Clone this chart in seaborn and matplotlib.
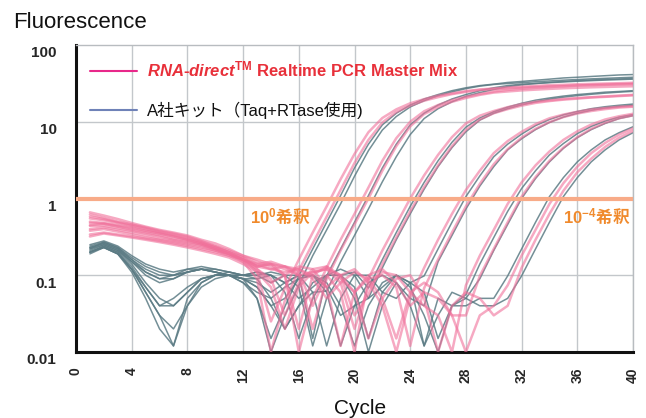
import numpy as np
import pandas as pd
import seaborn as sns
import matplotlib.pyplot as plt
from matplotlib.lines import Line2D
from matplotlib.transforms import ScaledTranslation

cycles = list(range(1, 41))

# RNA-direct wells (pink), fluorescence at cycles 1-40
pink_1 = [0.62, 0.56, 0.5, 0.46, 0.42, 0.38, 0.35, 0.32, 0.28, 0.24, 0.2, 0.16,
          0.11, 0.025, 0.068, 0.16, 0.36, 0.79, 1.78, 3.8,
          7.3, 11.2, 14.5, 17.4, 19.7, 21.9, 23.4, 25.1, 26.3, 27.2,
          28, 28.6, 29.3, 30, 30.3, 30.8, 31.1, 31.5, 31.8, 32.2]
pink_2 = [0.45, 0.47, 0.43, 0.39, 0.36, 0.33, 0.3, 0.28, 0.25, 0.22, 0.19, 0.15,
          0.09, 0.01, 0.047, 0.115, 0.26, 0.58, 1.29, 2.9,
          5.8, 9.8, 13.4, 16.2, 18.8, 20.9, 22.9, 24.5, 26, 26.5,
          27.2, 27.8, 28.4, 28.9, 29.3, 29.7, 30, 30.3, 30.6, 30.9]
pink_3 = [0.66, 0.6, 0.54, 0.48, 0.43, 0.39, 0.36, 0.33, 0.29, 0.26, 0.22, 0.18,
          0.15, 0.13, 0.1, 0.01, 0.051, 0.125, 0.29, 0.63,
          1.39, 3.1, 6.1, 10, 13.7, 16.5, 19.1, 21.2, 23, 24.7,
          26, 26.9, 27.7, 28.3, 29, 29.6, 30.2, 30.5, 30.9, 31.3]
pink_4 = [0.5, 0.48, 0.45, 0.42, 0.38, 0.35, 0.32, 0.29, 0.26, 0.23, 0.2, 0.17,
          0.14, 0.15, 0.13, 0.1, 0.02, 0.09, 0.21, 0.46,
          1.0, 2.3, 4.8, 8.7, 12.6, 15.5, 18.2, 20.4, 22.4, 24,
          24.8, 25.6, 26.2, 26.8, 27.3, 27.7, 28.1, 28.4, 28.7, 29]
pink_5 = [0.55, 0.52, 0.48, 0.44, 0.4, 0.36, 0.33, 0.3, 0.27, 0.24, 0.21, 0.18,
          0.16, 0.14, 0.13, 0.11, 0.04, 0.1, 0.06, 0.01,
          0.09, 0.21, 0.46, 1.0, 2.0, 3.7, 6.3, 9.5, 12, 13.8,
          15.5, 17, 18.2, 19, 19.8, 20.4, 20.9, 21.4, 21.9, 22.4]
pink_6 = [0.38, 0.4, 0.37, 0.34, 0.31, 0.29, 0.27, 0.25, 0.23, 0.21, 0.18, 0.16,
          0.13, 0.14, 0.1, 0.02, 0.1, 0.13, 0.1, 0.03,
          0.056, 0.14, 0.31, 0.68, 1.41, 2.7, 4.8, 7.8, 10.7, 12.9,
          14.6, 16.2, 17.6, 18.6, 19.4, 20, 20.7, 21.1, 21.6, 22.1]
pink_7 = [0.48, 0.47, 0.44, 0.41, 0.38, 0.35, 0.32, 0.29, 0.26, 0.22, 0.19, 0.16,
          0.13, 0.12, 0.13, 0.12, 0.1, 0.07, 0.1, 0.12,
          0.08, 0.04, 0.01, 0.051, 0.125, 0.29, 0.63, 1.29, 2.3, 3.9,
          5.6, 7.4, 9.3, 11.1, 12.4, 13.5, 14.5, 15.1, 15.7, 16]
pink_8 = [0.34, 0.36, 0.34, 0.32, 0.3, 0.28, 0.26, 0.24, 0.22, 0.2, 0.18, 0.15,
          0.12, 0.09, 0.03, 0.08, 0.12, 0.13, 0.09, 0.06,
          0.09, 0.1, 0.07, 0.012, 0.068, 0.16, 0.36, 0.79, 1.55, 2.8,
          4.4, 6.2, 8.1, 9.9, 11.5, 12.8, 13.8, 14.6, 15.3, 15.7]
pink_9 = [0.58, 0.54, 0.49, 0.45, 0.41, 0.37, 0.34, 0.31, 0.27, 0.23, 0.2, 0.17,
          0.13, 0.14, 0.12, 0.1, 0.11, 0.12, 0.08, 0.02,
          0.07, 0.11, 0.1, 0.06, 0.04, 0.03, 0.01, 0.074, 0.18, 0.39,
          0.85, 1.62, 2.7, 4.1, 5.8, 7.5, 9.2, 10.7, 11.8, 12.7]
pink_10 = [0.4, 0.42, 0.39, 0.36, 0.33, 0.3, 0.28, 0.26, 0.24, 0.21, 0.19, 0.16,
           0.12, 0.08, 0.1, 0.13, 0.12, 0.07, 0.012, 0.06,
           0.1, 0.12, 0.08, 0.04, 0.06, 0.05, 0.03, 0.03, 0.098, 0.22,
           0.49, 1.06, 1.9, 3.1, 4.6, 6.3, 8.1, 9.7, 11.1, 12.1]
pink_11 = [0.44, 0.44, 0.41, 0.38, 0.35, 0.32, 0.29, 0.27, 0.25, 0.22, 0.19, 0.16,
           0.14, 0.12, 0.11, 0.12, 0.09, 0.05, 0.08, 0.11,
           0.09, 0.05, 0.015, 0.06, 0.08, 0.06, 0.03, 0.01, 0.03, 0.04,
           0.074, 0.18, 0.39, 0.85, 1.58, 2.6, 3.9, 5.3, 6.8, 8.2]
pink_12 = [0.32, 0.35, 0.33, 0.31, 0.29, 0.27, 0.25, 0.23, 0.21, 0.19, 0.17, 0.14,
           0.11, 0.07, 0.02, 0.07, 0.11, 0.12, 0.1, 0.06,
           0.015, 0.05, 0.09, 0.1, 0.05, 0.01, 0.04, 0.06, 0.05, 0.03,
           0.04, 0.125, 0.29, 0.63, 1.26, 2.2, 3.3, 4.7, 6.2, 7.6]

# kit A wells (grey)
grey_1 = [0.22, 0.27, 0.23, 0.17, 0.13, 0.11, 0.1, 0.11, 0.12, 0.11, 0.1, 0.09,
          0.05, 0.015, 0.039, 0.098, 0.22, 0.49, 1.09, 2.5,
          5.1, 9.1, 12.9, 16.5, 19.8, 22.6, 25.4, 27.7, 29.6, 30.9,
          32.5, 33.5, 34.7, 35.9, 37.2, 38, 38.9, 39.8, 40.7, 41.2]
grey_2 = [0.2, 0.24, 0.2, 0.13, 0.07, 0.04, 0.05, 0.07, 0.09, 0.1, 0.1, 0.08,
          0.05, 0.01, 0.03, 0.074, 0.18, 0.39, 0.85, 1.95,
          4.2, 7.8, 11.7, 15.6, 18.8, 21.9, 24.5, 27, 29.1, 30.6,
          31.5, 32.3, 33.2, 34, 34.8, 35.5, 36.2, 36.8, 37.4, 38]
grey_3 = [0.25, 0.28, 0.24, 0.18, 0.14, 0.12, 0.11, 0.12, 0.13, 0.12, 0.11, 0.1,
          0.11, 0.1, 0.08, 0.1, 0.015, 0.098, 0.22, 0.49,
          1.09, 2.5, 5.1, 9.1, 12.9, 16.5, 19.8, 22.6, 25.4, 27.7,
          29.6, 30.9, 31.5, 32.3, 33, 33.7, 34.3, 34.9, 35.4, 35.9]
grey_4 = [0.19, 0.23, 0.19, 0.11, 0.05, 0.02, 0.012, 0.05, 0.08, 0.1, 0.11, 0.1,
          0.09, 0.05, 0.02, 0.04, 0.06, 0.062, 0.15, 0.33,
          0.73, 1.65, 3.5, 6.8, 11, 14.8, 18.2, 21.4, 24, 26.3,
          28.7, 30.2, 31.5, 32.6, 33.5, 34.3, 35, 35.6, 36.1, 36.6]
grey_5 = [0.23, 0.26, 0.22, 0.15, 0.1, 0.08, 0.09, 0.11, 0.12, 0.12, 0.11, 0.1,
          0.1, 0.11, 0.1, 0.07, 0.012, 0.05, 0.1, 0.11,
          0.068, 0.16, 0.36, 0.79, 1.62, 3.1, 5.4, 8.5, 11.2, 13.5,
          15.5, 17.4, 19.1, 20.4, 21.6, 22.6, 23.4, 24.3, 24.8, 25.4]
grey_6 = [0.21, 0.25, 0.21, 0.14, 0.08, 0.05, 0.04, 0.06, 0.09, 0.1, 0.1, 0.09,
          0.08, 0.06, 0.08, 0.1, 0.1, 0.06, 0.012, 0.04,
          0.05, 0.125, 0.29, 0.63, 1.32, 2.6, 4.6, 7.4, 10.5, 12.9,
          14.8, 16.6, 18.2, 19.7, 20.9, 21.9, 22.8, 23.6, 24.3, 24.9]
grey_7 = [0.24, 0.27, 0.23, 0.16, 0.11, 0.09, 0.1, 0.11, 0.12, 0.11, 0.1, 0.1,
          0.11, 0.1, 0.06, 0.015, 0.05, 0.1, 0.12, 0.1,
          0.05, 0.07, 0.1, 0.08, 0.098, 0.22, 0.49, 1.06, 1.97, 3.5,
          5.1, 6.9, 8.9, 10.7, 12.3, 13.6, 14.8, 15.7, 16.4, 17]
grey_8 = [0.2, 0.24, 0.2, 0.12, 0.06, 0.03, 0.012, 0.04, 0.08, 0.1, 0.1, 0.09,
          0.07, 0.04, 0.02, 0.04, 0.08, 0.1, 0.1, 0.05,
          0.01, 0.04, 0.08, 0.05, 0.04, 0.15, 0.33, 0.73, 1.45, 2.6,
          4.3, 6.0, 7.9, 9.8, 11.5, 12.9, 14.1, 15.1, 15.8, 16.4]
grey_9 = [0.23, 0.26, 0.22, 0.16, 0.12, 0.1, 0.1, 0.12, 0.12, 0.11, 0.1, 0.1,
          0.1, 0.08, 0.1, 0.1, 0.06, 0.012, 0.05, 0.1,
          0.1, 0.06, 0.05, 0.08, 0.06, 0.015, 0.04, 0.056, 0.14, 0.31,
          0.68, 1.35, 2.3, 3.7, 5.2, 7.0, 8.7, 10.2, 11.5, 12.4]
grey_10 = [0.2, 0.23, 0.19, 0.12, 0.07, 0.04, 0.04, 0.06, 0.09, 0.1, 0.1, 0.08,
           0.06, 0.05, 0.07, 0.09, 0.1, 0.08, 0.04, 0.012,
           0.04, 0.08, 0.1, 0.07, 0.03, 0.01, 0.04, 0.05, 0.09, 0.21,
           0.46, 1.0, 1.82, 3.0, 4.5, 6.2, 7.9, 9.5, 11, 12]
grey_11 = [0.22, 0.25, 0.21, 0.15, 0.11, 0.09, 0.09, 0.11, 0.12, 0.11, 0.1, 0.09,
           0.09, 0.1, 0.08, 0.05, 0.07, 0.1, 0.1, 0.07,
           0.015, 0.06, 0.1, 0.08, 0.012, 0.05, 0.04, 0.04, 0.05, 0.05,
           0.098, 0.22, 0.49, 1.06, 1.87, 3.0, 4.3, 5.8, 7.2, 8.6]
grey_12 = [0.2, 0.23, 0.19, 0.12, 0.06, 0.03, 0.02, 0.04, 0.07, 0.09, 0.1, 0.09,
           0.07, 0.04, 0.05, 0.09, 0.1, 0.07, 0.03, 0.04,
           0.08, 0.1, 0.08, 0.04, 0.012, 0.03, 0.06, 0.05, 0.04, 0.04,
           0.05, 0.098, 0.22, 0.49, 1.06, 1.87, 3.0, 4.3, 5.8, 7.2]

pink_wells = [pink_1, pink_2, pink_3, pink_4, pink_5, pink_6,
              pink_7, pink_8, pink_9, pink_10, pink_11, pink_12]
grey_wells = [grey_1, grey_2, grey_3, grey_4, grey_5, grey_6,
              grey_7, grey_8, grey_9, grey_10, grey_11, grey_12]

threshold = 1.0
y_ticks = [0.01, 0.1, 1, 10, 100]
y_labels = ["0.01", "0.1", "1", "10", "100"]
x_ticks = list(range(0, 41, 4))

label_rna = r"$\mathit{RNA}$-$\mathit{direct}^{\mathrm{TM}}$ Realtime PCR Master Mix"
label_kit = "A社キット（Taq+RTase使用)"
note_left = r"$\mathrm{10^{0}}$希釈"
note_right = r"$\mathrm{10^{-4}}$希釈"

rows = []
for i, w in enumerate(grey_wells):
    for c, v in zip(cycles, w):
        rows.append(("grey", "g%d" % i, c, v))
for i, w in enumerate(pink_wells):
    for c, v in zip(cycles, w):
        rows.append(("pink", "p%d" % i, c, v))
df = pd.DataFrame(rows, columns=["kit", "well", "cycle", "fluor"])

sns.set_style("white")
plt.rcParams['font.family'] = ['Liberation Sans', 'DejaVu Sans', 'Noto Sans CJK JP']
plt.rcParams['mathtext.fontset'] = 'custom'
plt.rcParams['mathtext.it'] = 'Liberation Sans:italic:bold'
plt.rcParams['mathtext.rm'] = 'Liberation Sans:bold'
plt.rcParams['mathtext.bf'] = 'Liberation Sans:bold'

fig = plt.figure(figsize=(6.46, 4.18), dpi=100)
ax = fig.add_axes([76 / 646, 1 - 352 / 418, 557 / 646, 307 / 418])

grid_c = "#c3c7cb"
for x in x_ticks:
    ax.axvline(x, color=grid_c, lw=1, zorder=0)
for y in y_ticks[1:-1]:
    ax.axhline(y, color=grid_c, lw=1, zorder=0)

sns.lineplot(data=df[df.kit == "grey"], x="cycle", y="fluor", units="well",
             estimator=None, color="#5b7b84", lw=1.1, alpha=0.85, ax=ax, zorder=2)
sns.lineplot(data=df[df.kit == "pink"], x="cycle", y="fluor", units="well",
             estimator=None, color="#f0709a", lw=1.8, alpha=0.6, ax=ax, zorder=3)

ax.axhline(threshold, color="#f8ab88", lw=3, zorder=4)

ax.set_yscale("log")
ax.set_ylim(0.01, 100)
ax.set_xlim(0, 40)
ax.set_xticks(x_ticks)
ax.set_xticklabels([str(x) for x in x_ticks], rotation=90, fontsize=10,
                   fontweight="bold")
ax.set_yticks(y_ticks)
ax.set_yticklabels(y_labels, fontsize=11, fontweight="bold")
ax.minorticks_off()
ax.tick_params(axis="both", length=0)
ax.tick_params(axis="x", pad=11)
ax.tick_params(axis="y", pad=14)
off = ScaledTranslation(0, -5 / 72, fig.dpi_scale_trans)
for t in ax.get_yticklabels():
    t.set_transform(t.get_transform() + off)
ax.set_xlabel("")
ax.set_ylabel("")

for s in ["top", "right"]:
    ax.spines[s].set_color("#b8bcc0")
    ax.spines[s].set_linewidth(1)
for s in ["left", "bottom"]:
    ax.spines[s].set_color("#111111")
    ax.spines[s].set_linewidth(2.2)

orange = "#f08a2c"
ax.text(12.5, 0.58, note_left, color=orange, fontsize=12, fontweight="bold",
        family="Noto Sans CJK JP", va="center", zorder=5)
ax.text(35.0, 0.58, note_right, color=orange, fontsize=12, fontweight="bold",
        family="Noto Sans CJK JP", va="center", zorder=5)

handles = [Line2D([], [], color="#e8288a", lw=1.5),
           Line2D([], [], color="#6f82b8", lw=1.5)]
leg = ax.legend(handles, [label_rna, label_kit], loc="upper left",
                bbox_to_anchor=(0.025, 0.952), frameon=False, fontsize=12,
                handlelength=2.8, handletextpad=0.6, labelspacing=1.34,
                borderpad=0, borderaxespad=0)
leg.get_texts()[0].set_color("#e8303a")
leg.get_texts()[0].set_fontweight("bold")
leg.get_texts()[1].set_color("#111111")
leg.get_texts()[1].set_fontfamily(['Liberation Sans', 'Noto Sans CJK JP'])

fig.text(13 / 646, 1 - 22 / 418, "Fluorescence", fontsize=16, va="center",
         color="#111111")
fig.text(360 / 646, 1 - 409 / 418, "Cycle", fontsize=15, va="center",
         ha="center", color="#111111")

fig.savefig("out.png", dpi=100)
